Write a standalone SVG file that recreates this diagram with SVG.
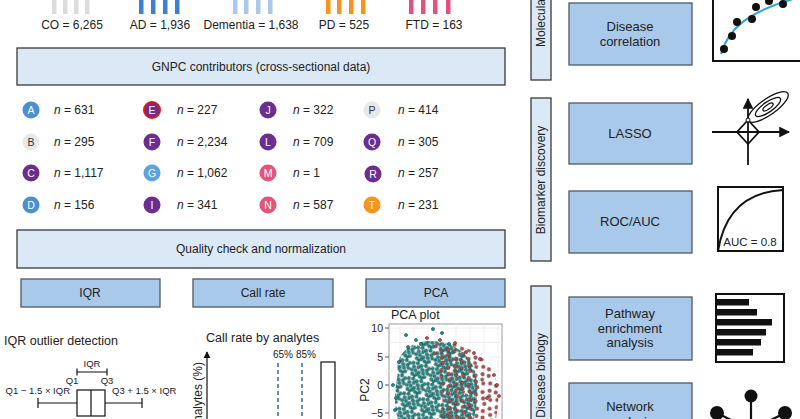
<svg xmlns="http://www.w3.org/2000/svg" width="800" height="419" viewBox="0 0 800 419">
<defs>
<style>
text{font-family:"Liberation Sans",Arial,sans-serif;fill:#222}
.lbl{font-size:12px}
.ctr{text-anchor:middle}
.panel{fill:#dbe8f6;stroke:#3a3a3a;stroke-width:1.3}
.mbox{fill:#a9c9ea;stroke:#4f5965;stroke-width:1.3}
.circ-t{font-size:10.5px;fill:#fff;text-anchor:middle}
.nt{font-size:12px}
.sm{font-size:9.5px}
.ax{stroke:#111;fill:none}
.grid{stroke:#ececec;stroke-width:0.8}
.tp{fill:#1b8f8c;stroke:#0d3938;stroke-width:0.5}
.rp{fill:#b5524f;stroke:#4a1a1a;stroke-width:0.5}
</style>
<marker id="arr" viewBox="0 0 10 10" refX="9" refY="5" markerWidth="6" markerHeight="6" orient="auto-start-reverse">
<path d="M0,0 L10,5 L0,10 Z" fill="#111"/>
</marker>
<pattern id="tealDots" width="20" height="16" patternUnits="userSpaceOnUse" patternTransform="rotate(17)">
<circle cx="1.5" cy="2" r="1.7" class="tp"/><circle cx="5.8" cy="1.2" r="1.7" class="tp"/><circle cx="10" cy="2.8" r="1.7" class="tp"/><circle cx="14.3" cy="1.5" r="1.7" class="tp"/><circle cx="18.2" cy="3.1" r="1.6" class="tp"/>
<circle cx="3.2" cy="5.6" r="1.7" class="tp"/><circle cx="7.6" cy="5" r="1.7" class="tp"/><circle cx="12" cy="6.3" r="1.7" class="tp"/><circle cx="16.4" cy="5.8" r="1.7" class="tp"/>
<circle cx="1.6" cy="9" r="1.6" class="tp"/><circle cx="5.5" cy="8.8" r="1.7" class="tp"/><circle cx="9.4" cy="9.9" r="1.7" class="tp"/><circle cx="13.8" cy="9.4" r="1.7" class="tp"/><circle cx="18.2" cy="8.6" r="1.6" class="tp"/>
<circle cx="3.4" cy="12.8" r="1.7" class="tp"/><circle cx="7.8" cy="12.3" r="1.7" class="tp"/><circle cx="11.6" cy="13.5" r="1.7" class="tp"/><circle cx="16" cy="12.6" r="1.7" class="tp"/>
<circle cx="6" cy="14.4" r="1.3" class="tp"/><circle cx="14" cy="14.4" r="1.3" class="tp"/>
</pattern>
<pattern id="redDots" width="22" height="18" patternUnits="userSpaceOnUse" patternTransform="rotate(-23)">
<circle cx="2" cy="3" r="1.7" class="rp"/><circle cx="9" cy="1.8" r="1.6" class="rp"/><circle cx="15.5" cy="4.5" r="1.7" class="rp"/><circle cx="19.8" cy="9" r="1.7" class="rp"/>
<circle cx="5" cy="9.5" r="1.7" class="rp"/><circle cx="12" cy="11" r="1.7" class="rp"/><circle cx="3" cy="15.5" r="1.7" class="rp"/><circle cx="9.5" cy="15.8" r="1.6" class="rp"/><circle cx="17" cy="15" r="1.7" class="rp"/>
</pattern>
</defs>
<rect width="800" height="419" fill="#fff"/>

<g id="cohort-bars">
<g fill="#dcdcdc"><rect x="52" y="0" width="4.5" height="14"/><rect x="63" y="0" width="4.5" height="14"/><rect x="74" y="0" width="4.5" height="14"/><rect x="85" y="0" width="4.5" height="14"/></g>
<g fill="#3d7fd0"><rect x="139" y="0" width="4.5" height="14"/><rect x="151" y="0" width="4.5" height="14"/><rect x="163" y="0" width="4.5" height="14"/><rect x="175" y="0" width="4.5" height="14"/></g>
<g fill="#a8c9ec"><rect x="233" y="0" width="4.5" height="14"/><rect x="244" y="0" width="4.5" height="14"/><rect x="256" y="0" width="4.5" height="14"/><rect x="268" y="0" width="4.5" height="14"/></g>
<g fill="#f7941d"><rect x="326" y="0" width="4.5" height="14"/><rect x="337" y="0" width="4.5" height="14"/><rect x="349" y="0" width="4.5" height="14"/><rect x="361" y="0" width="4.5" height="14"/></g>
<g fill="#e2527c"><rect x="409" y="0" width="4.5" height="14"/><rect x="421" y="0" width="4.5" height="14"/><rect x="433" y="0" width="4.5" height="14"/><rect x="446" y="0" width="4.5" height="14"/></g>
<text class="lbl ctr" x="72" y="29">CO = 6,265</text>
<text class="lbl ctr" x="160" y="29">AD = 1,936</text>
<text class="lbl ctr" x="251" y="29">Dementia = 1,638</text>
<text class="lbl ctr" x="344" y="29">PD = 525</text>
<text class="lbl ctr" x="434" y="29">FTD = 163</text>
</g>

<g id="gnpc">
<rect class="panel" x="17" y="48" width="488" height="37"/>
<text class="lbl ctr" x="261" y="71">GNPC contributors (cross-sectional data)</text>
</g>

<g id="contributors">
<circle cx="31" cy="110" r="8.5" fill="#4a8fd6"/><text class="circ-t" x="31" y="114">A</text><text class="nt" x="54" y="114"><tspan font-style="italic">n</tspan> = 631</text>
<circle cx="152" cy="110" r="8" fill="#6b2d8f" stroke="#e3141e" stroke-width="2"/><text class="circ-t" x="152" y="114">E</text><text class="nt" x="177" y="114"><tspan font-style="italic">n</tspan> = 227</text>
<circle cx="268" cy="110" r="8.5" fill="#6b2d8f"/><text class="circ-t" x="268" y="114">J</text><text class="nt" x="293" y="114"><tspan font-style="italic">n</tspan> = 322</text>
<circle cx="372" cy="110" r="8.5" fill="#e8e8e8"/><text class="circ-t" x="372" y="114" style="fill:#333">P</text><text class="nt" x="398" y="114"><tspan font-style="italic">n</tspan> = 414</text>

<circle cx="31" cy="142" r="8.5" fill="#e8e8e8"/><text class="circ-t" x="31" y="146" style="fill:#333">B</text><text class="nt" x="54" y="146"><tspan font-style="italic">n</tspan> = 295</text>
<circle cx="152" cy="142" r="8.5" fill="#6b2d8f"/><text class="circ-t" x="152" y="146">F</text><text class="nt" x="177" y="146"><tspan font-style="italic">n</tspan> = 2,234</text>
<circle cx="268" cy="142" r="8.5" fill="#6b2d8f"/><text class="circ-t" x="268" y="146">L</text><text class="nt" x="293" y="146"><tspan font-style="italic">n</tspan> = 709</text>
<circle cx="372" cy="142" r="8.5" fill="#6b2d8f"/><text class="circ-t" x="372" y="146">Q</text><text class="nt" x="398" y="146"><tspan font-style="italic">n</tspan> = 305</text>

<circle cx="31" cy="173" r="8.5" fill="#6b2d8f"/><text class="circ-t" x="31" y="177">C</text><text class="nt" x="54" y="177"><tspan font-style="italic">n</tspan> = 1,117</text>
<circle cx="152" cy="173" r="8.5" fill="#5aa3de"/><text class="circ-t" x="152" y="177">G</text><text class="nt" x="177" y="177"><tspan font-style="italic">n</tspan> = 1,062</text>
<circle cx="268" cy="173" r="8.5" fill="#e0557a"/><text class="circ-t" x="268" y="177">M</text><text class="nt" x="293" y="177"><tspan font-style="italic">n</tspan> = 1</text>
<circle cx="373" cy="174" r="8.5" fill="#6b2d8f"/><text class="circ-t" x="373" y="178">R</text><text class="nt" x="398" y="177"><tspan font-style="italic">n</tspan> = 257</text>

<circle cx="31" cy="205" r="8.5" fill="#4a8fd6"/><text class="circ-t" x="31" y="209">D</text><text class="nt" x="54" y="209"><tspan font-style="italic">n</tspan> = 156</text>
<circle cx="152" cy="205" r="8.5" fill="#6b2d8f"/><text class="circ-t" x="152" y="209">I</text><text class="nt" x="177" y="209"><tspan font-style="italic">n</tspan> = 341</text>
<circle cx="268" cy="205" r="8.5" fill="#e0557a"/><text class="circ-t" x="268" y="209">N</text><text class="nt" x="293" y="209"><tspan font-style="italic">n</tspan> = 587</text>
<circle cx="372" cy="205" r="8.5" fill="#f7941d"/><text class="circ-t" x="372" y="209">T</text><text class="nt" x="398" y="209"><tspan font-style="italic">n</tspan> = 231</text>
</g>

<g id="quality">
<rect class="panel" x="17" y="230" width="488" height="38"/>
<text class="lbl ctr" x="261" y="253">Quality check and normalization</text>
</g>

<g id="iqr">
<rect class="mbox" x="21" y="279" width="139" height="28"/>
<text class="lbl ctr" x="90" y="297">IQR</text>
</g>
<g id="callrate">
<rect class="mbox" x="193" y="279" width="140" height="28"/>
<text class="lbl ctr" x="263" y="297">Call rate</text>
</g>
<g id="pca">
<rect class="mbox" x="366" y="279" width="139" height="28"/>
<text class="lbl ctr" x="436" y="297">PCA</text>
</g>

<g id="iqr-plot">
<text class="lbl" x="4" y="345" style="font-size:12.5px">IQR outlier detection</text>
<path class="ax" d="M77,372 H107 M77,368.5 V375.5 M107,368.5 V375.5" stroke-width="1.2"/>
<text class="sm ctr" x="92" y="367">IQR</text>
<text class="sm ctr" x="72" y="384">Q1</text>
<text class="sm ctr" x="107" y="384">Q3</text>
<text class="sm" x="70" y="394" text-anchor="end">Q1 − 1.5 × IQR</text>
<text class="sm" x="112" y="394">Q3 + 1.5 × IQR</text>
<rect x="77" y="390" width="28" height="26" fill="#fff" stroke="#111" stroke-width="1.2"/>
<path class="ax" d="M91,390 V416 M38,403 H77 M105,403 H142 M38,398 V408 M142,398 V408" stroke-width="1.2"/>
</g>

<g id="callrate-plot">
<text class="lbl" x="206" y="342" style="font-size:12.5px">Call rate by analytes</text>
<line class="ax" x1="207" y1="419" x2="207" y2="352" stroke-width="1.2" marker-end="url(#arr)"/>
<text class="lbl" transform="translate(202,362) rotate(-90)" text-anchor="end">analytes (%)</text>
<path d="M278,363 V419 M302,363 V419" stroke="#2e6e9e" stroke-width="1.5" stroke-dasharray="4 3" fill="none"/>
<text class="ctr" x="283" y="358" style="font-size:10px">65%</text>
<text class="ctr" x="306" y="358" style="font-size:10px">85%</text>
<rect x="321" y="362" width="14" height="62" fill="#fff" stroke="#111" stroke-width="1.2"/>
</g>

<g id="pca-plot">
<text class="lbl" x="391" y="319" style="font-size:12.5px">PCA plot</text>
<rect x="389" y="324" width="113" height="100" fill="#fff" stroke="#999" stroke-width="1"/>
<path class="grid" d="M389,328 H502 M389,342.5 H502 M389,357 H502 M389,371 H502 M389,385 H502 M389,399 H502 M389,413 H502 M400,324 V419 M414,324 V419 M428,324 V419 M442,324 V419 M456,324 V419 M470,324 V419 M484,324 V419 M498,324 V419"/>
<path d="M385,328 H389 M385,357 H389 M385,385 H389 M385,413 H389" stroke="#555" stroke-width="1"/>
<text x="383" y="332" text-anchor="end" style="font-size:10.5px">10</text>
<text x="383" y="361" text-anchor="end" style="font-size:10.5px">5</text>
<text x="383" y="389" text-anchor="end" style="font-size:10.5px">0</text>
<text x="383" y="417" text-anchor="end" style="font-size:10.5px">−5</text>
<text class="lbl ctr" transform="translate(369,390) rotate(-90)">PC2</text>
<path d="M398,372 C395,356 408,343 427,341 C446,340 462,348 471,362 C480,378 478,400 474,419 L398,419 C393,405 395,388 398,372 Z" fill="url(#tealDots)"/>
<path d="M430,346 C450,337 478,350 490,366 C501,383 499,404 496,419 L440,419 C446,396 441,370 430,346 Z" fill="url(#redDots)"/>
<g>
<circle cx="406" cy="335" r="1.6" class="tp"/><circle cx="433" cy="329" r="1.6" class="tp"/><circle cx="442" cy="333" r="1.6" class="tp"/>
<circle cx="427" cy="338" r="1.6" class="rp"/><circle cx="440" cy="340" r="1.6" class="rp"/><circle cx="455" cy="343" r="1.6" class="rp"/>
<circle cx="497" cy="385" r="1.6" class="rp"/><circle cx="494" cy="375" r="1.6" class="rp"/><circle cx="396" cy="398" r="1.6" class="tp"/>
<circle cx="416" cy="340" r="1.6" class="tp"/><circle cx="466" cy="352" r="1.6" class="rp"/><circle cx="480" cy="359" r="1.6" class="rp"/>
<circle cx="399" cy="362" r="1.6" class="tp"/><circle cx="393" cy="385" r="1.6" class="tp"/><circle cx="395" cy="410" r="1.6" class="tp"/>
<circle cx="408" cy="347" r="1.6" class="tp"/><circle cx="449" cy="344" r="1.6" class="tp"/><circle cx="487" cy="398" r="1.6" class="rp"/>
<circle cx="499" cy="396" r="1.6" class="rp"/><circle cx="474" cy="353" r="1.6" class="rp"/><circle cx="421" cy="344" r="1.6" class="tp"/>
</g>
</g>

<g id="section-molecular">
<rect class="panel" x="531" y="-5" width="20" height="85"/>
<text class="lbl" transform="translate(545,47) rotate(-90)">Molecular</text>
</g>
<g id="section-biomarker">
<rect class="panel" x="531" y="98" width="20" height="163"/>
<text class="lbl ctr" transform="translate(545,180) rotate(-90)">Biomarker discovery</text>
</g>
<g id="section-disease">
<rect class="panel" x="531" y="286" width="20" height="140"/>
<text class="lbl" transform="translate(545,333) rotate(-90)" text-anchor="end">Disease biology</text>
</g>

<g id="disease-correlation">
<rect class="mbox" x="569" y="3" width="123" height="62"/>
<text class="ctr" x="630" y="31" style="font-size:13px">Disease</text>
<text class="ctr" x="630" y="46" style="font-size:13px">correlation</text>
</g>
<g id="lasso">
<rect class="mbox" x="569" y="103" width="123" height="61"/>
<text class="ctr" x="630" y="138" style="font-size:13px">LASSO</text>
</g>
<g id="roc-auc">
<rect class="mbox" x="569" y="191" width="123" height="62"/>
<text class="ctr" x="630" y="226" style="font-size:13px">ROC/AUC</text>
</g>
<g id="pathway">
<rect class="mbox" x="569" y="297" width="123" height="63"/>
<text class="ctr" x="630" y="318" style="font-size:13px">Pathway</text>
<text class="ctr" x="630" y="333" style="font-size:13px">enrichment</text>
<text class="ctr" x="630" y="347" style="font-size:13px">analysis</text>
</g>
<g id="network">
<rect class="mbox" x="569" y="383" width="123" height="45"/>
<text class="ctr" x="630" y="411" style="font-size:13px">Network</text>
<text class="ctr" x="630" y="426" style="font-size:13px">analysis</text>
</g>

<g id="icon-correlation">
<path d="M721,54 C728,30 745,12 800,-3" stroke="#2aa7d8" stroke-width="2" fill="none"/>
<path class="ax" d="M713,0 V61 H800" stroke-width="2"/>
<g fill="#111"><circle cx="724" cy="49" r="4"/><circle cx="732" cy="36" r="4"/><circle cx="737" cy="22" r="4"/><circle cx="752" cy="19" r="4"/><circle cx="756" cy="7" r="4"/><circle cx="769" cy="1" r="4"/><circle cx="783" cy="4" r="4"/></g>
</g>
<g id="icon-lasso">
<line class="ax" x1="748" y1="165" x2="748" y2="99" stroke-width="1.8" marker-end="url(#arr)"/>
<line class="ax" x1="712" y1="132" x2="789" y2="132" stroke-width="1.8" marker-end="url(#arr)"/>
<path class="ax" d="M748,120 L759,132 L748,144 L737,132 Z" stroke-width="1.8"/>
<g transform="translate(768,107) rotate(-35)" class="ax" stroke-width="1.3">
<ellipse cx="0" cy="0" rx="24" ry="8"/>
<ellipse cx="0" cy="0" rx="15" ry="5"/>
<ellipse cx="0" cy="0" rx="6" ry="2.2"/>
</g>
<circle cx="748" cy="120" r="2" fill="#fff" stroke="#111" stroke-width="1"/>
</g>
<g id="icon-roc">
<rect x="718" y="187" width="65" height="64" fill="#fff" stroke="#111" stroke-width="2"/>
<path class="ax" d="M718,251 C724,214 745,192 783,190" stroke-width="2"/>
<text x="750" y="246" class="ctr" style="font-size:11.5px">AUC = 0.8</text>
</g>
<g id="icon-pathway">
<rect x="716" y="294" width="68" height="68" fill="#fff" stroke="#111" stroke-width="2"/>
<g fill="#111"><rect x="716" y="299" width="33" height="6.5"/><rect x="716" y="309" width="41" height="6.5"/><rect x="716" y="319" width="56" height="6.5"/><rect x="716" y="329" width="50" height="6.5"/><rect x="716" y="339" width="45" height="6.5"/><rect x="716" y="349" width="37" height="6.5"/></g>
</g>
<g id="icon-network">
<path class="ax" d="M751,396 V425 M717,413 L751,430 M785,413 L751,430" stroke-width="2.2"/>
<g fill="#111"><circle cx="751" cy="396" r="6.5"/><circle cx="717" cy="413" r="7"/><circle cx="785" cy="413" r="7"/></g>
</g>
</svg>
